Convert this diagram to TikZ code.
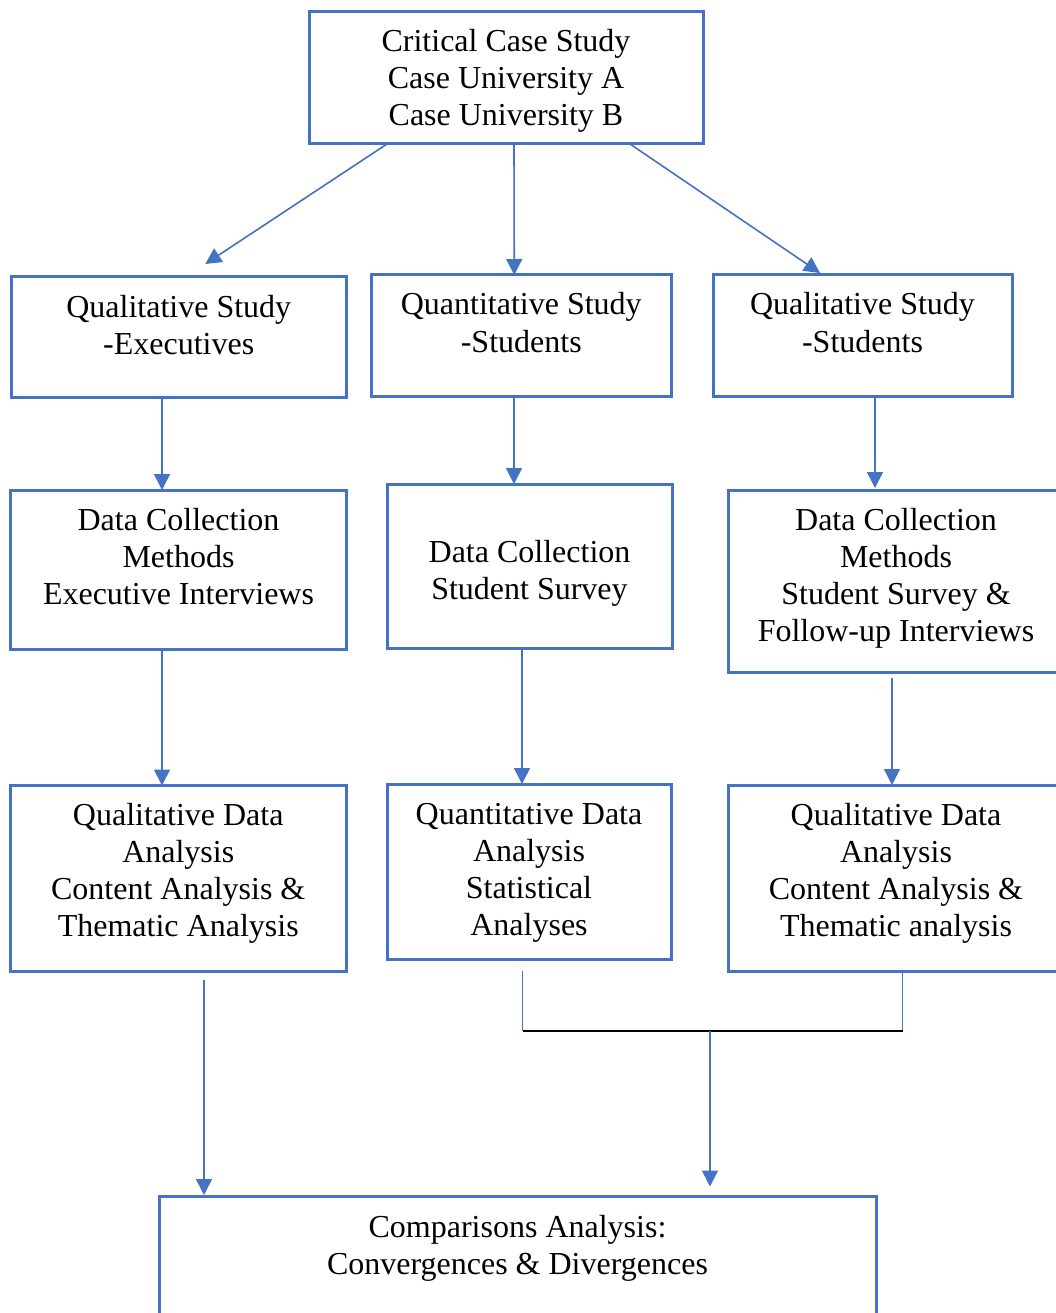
\documentclass[tikz,border=0pt]{standalone}
\usepackage{fontspec}
\setmainfont{Liberation Serif}
\usetikzlibrary{arrows.meta}
\definecolor{wordblue}{HTML}{4472C4}

% rectangle node given by its corners: name, x1, y1, x2, y2
\newcommand\flowbox[5]{%
  \node[box, minimum width={(#4)-(#2)}, minimum height={(#5)-(#3)}]
    (#1) at ({((#2)+(#4))/2},{((#3)+(#5))/2}) {};}

% text of a box: box name, depth of the first baseline below the top edge,
% number of lines, lines (the base anchor sits on the last line)
\newcommand\boxtext[4]{%
  \node[txt] (#1-t) at ([yshift={-((#2)+((#3)-1)*37)*1pt}]#1.north) {#4};}

\begin{document}
\begin{tikzpicture}[x=1pt, y=-1pt,
  box/.style={draw=wordblue, line width=3pt, rectangle, inner sep=0pt, outer sep=0pt},
  txt/.style={font=\fontsize{32}{37}\selectfont, align=center, inner sep=0pt, anchor=base},
  link/.style={draw=wordblue, line width=1.6pt, -{Triangle[length=16pt,width=16pt]}},
  plain/.style={draw=wordblue, line width=1.6pt},
  joinline/.style={draw=black, line width=1.3pt},
]
\useasboundingbox (0,0) rectangle (1056,1313);
\fill[white] (0,0) rectangle (1056,1313);
\clip (0,0) rectangle (1056,1313);

% boxes
\flowbox{top}{309}{12}{703}{144}
\flowbox{qe}{11}{277}{346.5}{397}
\flowbox{qs}{371}{275}{671.5}{396}
\flowbox{qst}{713}{275}{1012}{396}
\flowbox{dce}{10.5}{490}{346.5}{649}
\flowbox{dcs}{387}{484}{672}{648.5}
\flowbox{dcr}{728}{490}{1064}{672}
\flowbox{qae}{10.5}{785.5}{346}{971}
\flowbox{qas}{387}{784}{671}{959}
\flowbox{qar}{728}{785}{1064}{971}
\flowbox{cmp}{159}{1196.5}{876}{1340}

% box texts
\boxtext{top}{40}{3}{Critical Case Study\\Case University A\\Case University B}
\boxtext{qe}{40}{2}{Qualitative Study\\-Executives}
\boxtext{qs}{40}{2}{Quantitative Study\\-Students}
\boxtext{qst}{40}{2}{Qualitative Study\\-Students}
\boxtext{dce}{40}{3}{Data Collection\\Methods\\Executive Interviews}
\boxtext{dcs}{78}{2}{Data Collection\\Student Survey}
\boxtext{dcr}{40}{4}{Data Collection\\Methods\\Student Survey \&\\Follow-up Interviews}
\boxtext{qae}{40}{4}{Qualitative Data\\Analysis\\Content Analysis \&\\Thematic Analysis}
\boxtext{qas}{40}{4}{Quantitative Data\\Analysis\\Statistical\\Analyses}
\boxtext{qar}{40}{4}{Qualitative Data\\Analysis\\Content Analysis \&\\Thematic analysis}
\boxtext{cmp}{41}{2}{Comparisons Analysis:\\Convergences \& Divergences}

% top level split
\draw[link] ([xshift=-119pt]top.south) -- ([xshift=26.5pt,yshift=13pt]qe.north);
\draw[link] ([xshift=8pt]top.south) -- ([xshift=-7pt]qs.north);
\draw[link] ([xshift=124pt]top.south) -- ([xshift=-42.5pt,yshift=2pt]qst.north);

% study -> data collection
\draw[link] ([xshift=-16.75pt]qe.south) -- ([xshift=-16.5pt]dce.north);
\draw[link] ([xshift=-7.25pt]qs.south) -- ([xshift=-15.5pt]dcs.north);
\draw[link] ([xshift=12.5pt]qst.south) -- ([xshift=-21pt,yshift=2pt]dcr.north);

% data collection -> analysis
\draw[link] ([xshift=-16.5pt]dce.south) -- ([xshift=-16.25pt]qae.north);
\draw[link] ([xshift=-7.5pt]dcs.south) -- ([xshift=-7pt]qas.north);
\draw[link] ([xshift=-4pt,yshift=-6pt]dcr.south) -- ([xshift=-4pt]qar.north);

% analysis -> comparison
\draw[link] ([xshift=25.75pt,yshift=-9pt]qae.south) -- ([xshift=-313.5pt,yshift=1.5pt]cmp.north);

\coordinate (mL) at (522.5,1031);
\coordinate (mR) at (902.5,1031);
\coordinate (mC) at (710,1031);
\draw[plain] ([xshift=-6.5pt,yshift=-12pt]qas.south) -- (mL);
\draw[plain] ([xshift=6.5pt]qar.south) -- (mR);
\draw[joinline] (mL) -- (mR);
\draw[link] (mC) -- ([xshift=192.5pt,yshift=10pt]cmp.north);
\end{tikzpicture}
\end{document}
